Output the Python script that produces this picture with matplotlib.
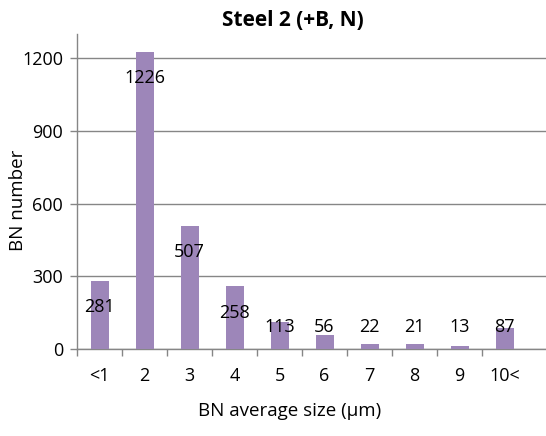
import matplotlib
matplotlib.use("Agg")
import matplotlib.pyplot as plt
import numpy as np

categories = ["<1", "2", "3", "4", "5", "6", "7", "8", "9", "10<"]
counts = [281, 1226, 507, 258, 113, 56, 22, 21, 13, 87]
yticks = [0, 300, 600, 900, 1200]

plt.rcParams["font.family"] = ["Open Sans", "DejaVu Sans"]

fig = plt.figure(figsize=(5.46, 4.36), dpi=100)
ax = fig.add_axes([77 / 546, 87 / 436, 1 - 77 / 546, 315 / 436])

x = np.arange(len(categories))
grey = "#868686"
ax.bar(x, counts, width=0.4, color="#9d86b9", zorder=3)

ax.set_ylim(0, 1300)
ax.set_xlim(-0.5, 9.92)
ax.set_yticks(yticks)
ax.set_yticklabels([str(t) for t in yticks], fontsize=13)
ax.yaxis.grid(True, color=grey, linewidth=1.0, zorder=0)

ax.set_xticks(x)
ax.set_xticklabels(categories, fontsize=13)
ax.set_xticks(np.arange(len(categories)) - 0.5, minor=True)
ax.tick_params(axis="x", which="major", length=0, pad=13)
ax.tick_params(axis="x", which="minor", length=5, color=grey, width=1)
ax.tick_params(axis="y", length=5, color=grey, width=1, pad=5)

for side in ["top", "right"]:
    ax.spines[side].set_visible(False)
for side in ["left", "bottom"]:
    ax.spines[side].set_color(grey)
    ax.spines[side].set_linewidth(1.0)

# value labels inside the bar end, kept above the baseline for short bars
for xi, v in zip(x, counts):
    ax.text(xi, max(v - 108, 92), str(v), ha="center", va="center",
            fontsize=13, color="black", zorder=4)

fig.text(293 / 546, 1 - 20 / 436, "Steel 2 (+B, N)", ha="center", va="center",
         fontsize=15, fontweight="bold")
fig.text(290 / 546, 1 - 411 / 436, "BN average size (\u03bcm)", ha="center",
         va="center", fontsize=13.5)
fig.text(18 / 546, 1 - 200 / 436, "BN number", ha="center", va="center",
         rotation=90, fontsize=13.5)

fig.savefig("out.png", dpi=100)
